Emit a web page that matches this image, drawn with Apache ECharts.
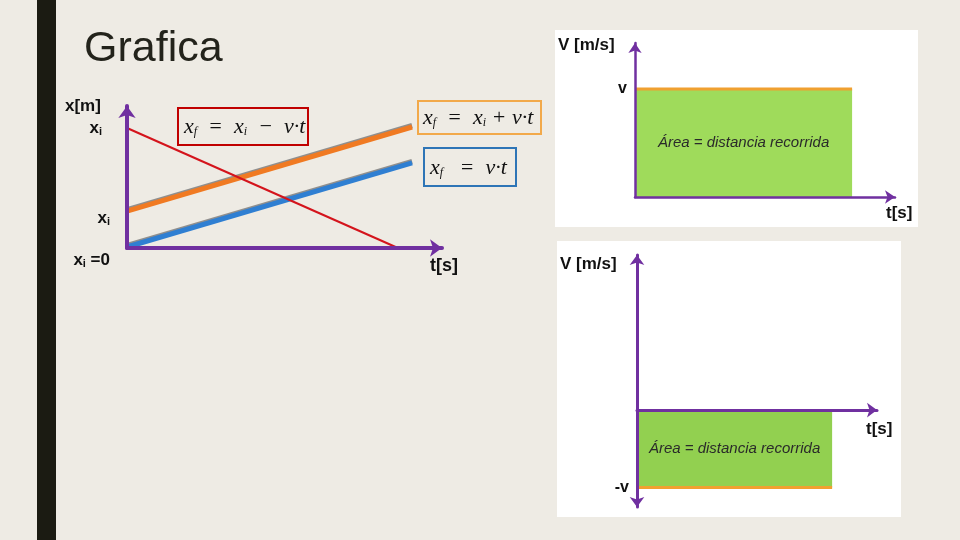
<!DOCTYPE html>
<html><head><meta charset="utf-8">
<script src="https://cdn.jsdelivr.net/npm/echarts@6/dist/echarts.min.js"></script>
<style>html,body{margin:0;padding:0;background:#eeebe4}#c{width:960px;height:540px}</style>
</head><body><div id="c"></div>
<script>
// ---- Left chart: position x[m] vs time t[s] ----
const redLine = [[0, 8.45], [8.6, 0]];        // x_f = x_i - v·t
const orangeLine = [[0, 2.6], [9.05, 8.52]];  // x_f = x_i + v·t
const blueLine = [[0, 0.07], [9.05, 5.99]];   // x_f = v·t
const posTickValues = [0, 2.6, 8.45];
const posTickLabels = ['x_i =0', 'x_i', 'x_i'];
// ---- Top right: constant positive velocity ----
const velPosLine = [[0, 7.01], [8.35, 7.01]];
const velPosTickValues = [7.01];
const velPosTickLabels = ['v'];
// ---- Bottom right: constant negative velocity ----
const velNegLine = [[0, -4.0], [8.13, -4.0]];
const velNegTickValues = [-4.0];
const velNegTickLabels = ['-v'];
const areaText = 'Área = distancia recorrida';

const purple = '#7030a0';
const chart = echarts.init(document.getElementById('c'));

const posShift = [24, 14, 0];
const posPadRight = [0, 0, 8];
function subRich(s, shift, padR) {
  const p = s.split('_');
  let out = shift ? '{g' + shift + '|}\n' : '';
  out += '{m|' + p[0] + '}';
  if (p[1]) {
    out += '{s|' + p[1][0] + '}';
    if (p[1].length > 1) out += '{m|' + p[1].slice(1) + '}';
  }
  if (padR) out += '{p|}';
  return out;
}

function axisLineStyle(w, symbols, size) {
  return { show: true, symbol: symbols, symbolSize: size, lineStyle: { color: purple, width: w } };
}

function formula(x, y, text) {
  return {
    type: 'text', x: x, y: y, z: 20,
    style: {
      text: text, verticalAlign: 'middle',
      rich: {
        v: { fontFamily: 'Liberation Serif', fontStyle: 'italic', fontSize: 22, fill: '#111', color: '#111' },
        s: { fontFamily: 'Liberation Serif', fontStyle: 'italic', fontSize: 12, fill: '#111', color: '#111', padding: [10, 0, 0, 0] }
      }
    }
  };
}
function boldText(x, y, t, size, align) {
  return { type: 'text', x: x, y: y, z: 20, style: { text: t, fontFamily: 'Liberation Sans', fontWeight: 'bold', fontSize: size, fill: '#111', align: align || 'left', verticalAlign: 'middle' } };
}

const option = {
  backgroundColor: '#eeebe4',
  animation: false,
  graphic: [
    { type: 'rect', shape: { x: 37, y: 0, width: 19, height: 540 }, style: { fill: '#1b1b12' }, z: 0 },
    { type: 'rect', shape: { x: 555, y: 30, width: 363, height: 197 }, style: { fill: '#ffffff' }, z: 0 },
    { type: 'rect', shape: { x: 557, y: 241, width: 344, height: 276 }, style: { fill: '#ffffff' }, z: 0 },
    { type: 'text', x: 84, y: 49, z: 20, style: { text: 'Grafica', fontFamily: 'Liberation Sans', fontSize: 43, fill: '#23231b', verticalAlign: 'middle' } },
    { type: 'text', x: 65, y: 106, z: 20, style: { text: 'x[m]', fontFamily: 'Liberation Sans', fontWeight: 'bold', fontSize: 17, fill: '#111', verticalAlign: 'middle' } },
    boldText(430, 266, 't[s]', 18),
    boldText(558, 45, 'V [m/s]', 17),
    boldText(886, 213, 't[s]', 17),
    boldText(560, 264, 'V [m/s]', 17),
    boldText(866, 429, 't[s]', 17),
    { type: 'rect', z: 20, shape: { x: 178, y: 108, width: 130, height: 37 }, style: { fill: 'none', stroke: '#c00000', lineWidth: 2 } },
    { type: 'rect', z: 20, shape: { x: 418, y: 101, width: 123, height: 33 }, style: { fill: 'none', stroke: '#f2a94a', lineWidth: 2 } },
    { type: 'rect', z: 20, shape: { x: 424, y: 148, width: 92, height: 38 }, style: { fill: 'none', stroke: '#2e75b6', lineWidth: 2 } },
    formula(184, 127, '{v|x}{s|f}{v|  =  x}{s|i}{v|  −  v·t}'),
    formula(423, 118, '{v|x}{s|f}{v|  =  x}{s|i}{v| + v·t}'),
    formula(430, 168, '{v|x}{s|f}{v|   =  v·t}')
  ],
  grid: [
    { left: 127, top: 106, right: 518, bottom: 292 },
    { left: 635, top: 43, right: 65, bottom: 343 },
    { left: 637, top: 255, right: 83, bottom: 33 }
  ],
  xAxis: [
    { type: 'value', gridIndex: 0, min: 0, max: 10, z: 5, axisLine: axisLineStyle(4, ['none', 'arrow'], [13, 12]), axisTick: { show: false }, axisLabel: { show: false }, splitLine: { show: false } },
    { type: 'value', gridIndex: 1, min: 0, max: 10, z: 5, axisLine: axisLineStyle(2.5, ['none', 'arrow'], [10, 10]), axisTick: { show: false }, axisLabel: { show: false }, splitLine: { show: false } },
    { type: 'value', gridIndex: 2, min: 0, max: 10, z: 5, axisLine: axisLineStyle(3, ['none', 'arrow'], [11, 10]), axisTick: { show: false }, axisLabel: { show: false }, splitLine: { show: false } }
  ],
  yAxis: [
    { type: 'value', gridIndex: 0, min: 0, max: 10, z: 5, axisLine: axisLineStyle(4, ['none', 'arrow'], [13, 12]), axisTick: { show: false }, splitLine: { show: false },
      axisLabel: { customValues: posTickValues, margin: 17,
        formatter: function (val) { const i = posTickValues.indexOf(val); return subRich(posTickLabels[i], posShift[i], posPadRight[i]); },
        rich: {
          m: { fontFamily: 'Liberation Sans', fontWeight: 'bold', fontSize: 17, color: '#111' },
          s: { fontFamily: 'Liberation Sans', fontWeight: 'bold', fontSize: 11, color: '#111', padding: [8, 0, 0, 0] },
          p: { width: 8 },
          g24: { lineHeight: 24 }, g14: { lineHeight: 14 }
        } } },
    { type: 'value', gridIndex: 1, min: 0, max: 10, z: 5, axisLine: axisLineStyle(2.5, ['none', 'arrow'], [10, 10]), axisTick: { show: false }, splitLine: { show: false },
      axisLabel: { customValues: velPosTickValues, margin: 8, fontFamily: 'Liberation Sans', fontWeight: 'bold', fontSize: 16, color: '#111',
        formatter: function (val) { return velPosTickLabels[velPosTickValues.indexOf(val)]; } } },
    { type: 'value', gridIndex: 2, min: -5, max: 8, z: 5, axisLine: axisLineStyle(3, ['arrow', 'arrow'], [11, 10]), axisTick: { show: false }, splitLine: { show: false },
      axisLabel: { customValues: velNegTickValues, margin: 8, fontFamily: 'Liberation Sans', fontWeight: 'bold', fontSize: 16, color: '#111',
        formatter: function (val) { return velNegTickLabels[velNegTickValues.indexOf(val)]; } } }
  ],
  series: [
    { type: 'line', xAxisIndex: 0, yAxisIndex: 0, data: blueLine, showSymbol: false, lineStyle: { color: '#2f7fd2', width: 5, shadowColor: 'rgba(120,120,120,0.8)', shadowOffsetY: -1.5 }, z: 3 },
    { type: 'line', xAxisIndex: 0, yAxisIndex: 0, data: orangeLine, showSymbol: false, lineStyle: { color: '#f07a22', width: 5, shadowColor: 'rgba(120,120,120,0.8)', shadowOffsetY: -1.5 }, z: 3 },
    { type: 'line', xAxisIndex: 0, yAxisIndex: 0, data: redLine, showSymbol: false, lineStyle: { color: '#d4141c', width: 2 }, z: 4 },
    { type: 'line', xAxisIndex: 1, yAxisIndex: 1, data: velPosLine, showSymbol: false, lineStyle: { color: '#f0a030', width: 3 }, z: 4,
      markArea: { silent: true, itemStyle: { color: '#9fdb5b', opacity: 1 },
        label: { show: true, position: 'inside', formatter: areaText, fontFamily: 'Liberation Sans', fontStyle: 'italic', fontSize: 15, color: '#2a2a2a' },
        data: [[{ coord: [velPosLine[0][0], 0] }, { coord: [velPosLine[1][0], velPosLine[1][1]] }]] } },
    { type: 'line', xAxisIndex: 2, yAxisIndex: 2, data: velNegLine, showSymbol: false, lineStyle: { color: '#f0a030', width: 3 }, z: 4,
      markArea: { silent: true, itemStyle: { color: '#92d050', opacity: 1 },
        label: { show: true, position: 'inside', formatter: areaText, fontFamily: 'Liberation Sans', fontStyle: 'italic', fontSize: 15, color: '#2a2a2a' },
        data: [[{ coord: [velNegLine[0][0], 0] }, { coord: [velNegLine[1][0], velNegLine[1][1]] }]] } }
  ]
};
chart.setOption(option);
</script>
</body></html>
